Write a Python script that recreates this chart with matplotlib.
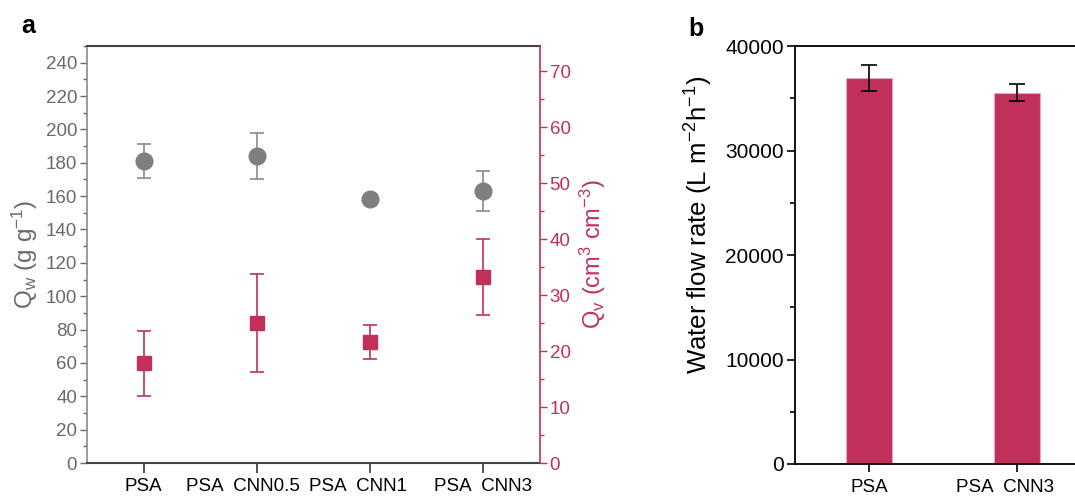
import numpy as np
import matplotlib
matplotlib.use("Agg")
import matplotlib.pyplot as plt
import matplotlib.transforms as mtransforms
from matplotlib.ticker import MultipleLocator

plt.rcParams['font.family'] = ['Liberation Sans', 'DejaVu Sans']
plt.rcParams['mathtext.default'] = 'regular'

# panel a: uptake per sample
samples = ["PSA", "PSA  CNN0.5", "PSA  CNN1", "PSA  CNN3"]
qw_mean = [181, 184, 158.5, 163]
qw_err = [10, 14, 2, 12]
qv_mean = [17.8, 25.0, 21.6, 33.2]
qv_err = [5.8, 8.7, 3.1, 6.8]

# panel b: water flow rate
flow_samples = ["PSA", "PSA  CNN3"]
flow_mean = [36900, 35550]
flow_err = [1250, 850]

grey = "#7f7f7f"
grey_txt = "#6a6a6a"
crimson = "#c1305b"


def nudge_labels(axis, shifts):
    # shift tick labels sideways by a few pixels
    for lab, dx in zip(axis.get_xticklabels(), shifts):
        lab.set_transform(lab.get_transform() +
                          mtransforms.ScaledTranslation(dx / 100, 0, fig.dpi_scale_trans))


fig = plt.figure(figsize=(10.75, 4.97), dpi=100)

# ---- panel a ----
ax = fig.add_axes([0.0809, 0.0684, 0.4214, 0.839])
x = np.arange(1, len(samples) + 1)
ax.errorbar(x, qw_mean, yerr=qw_err, fmt='o', ms=12, color=grey,
            ecolor="#8a8a8a", elinewidth=1.2, capsize=5, capthick=1.2, zorder=3)
ax.set_xlim(0.5, 4.5)
ax.set_ylim(0, 250)
ax.yaxis.set_major_locator(MultipleLocator(20))
ax.yaxis.set_minor_locator(MultipleLocator(10))
ax.set_xticks(x)
ax.set_xticklabels(samples, fontsize=13.5)
ax.tick_params(axis='x', length=7, width=1.2, color="#333333", pad=4)
nudge_labels(ax, [0, -14, -12, 0])
ax.tick_params(axis='y', which='major', length=5, width=1, colors=grey_txt,
               labelsize=13.5, pad=2)
ax.tick_params(axis='y', which='minor', length=3, width=1, color=grey_txt)
ax.spines['left'].set_color("#8a8a8a")
ax.spines['left'].set_linewidth(1.2)
for s in ('top', 'bottom'):
    ax.spines[s].set_color("#444444")
    ax.spines[s].set_linewidth(1.5)
ax.spines['right'].set_visible(False)
ax.set_ylabel("Q$_w$ (g g$^{-1}$)", color=grey_txt, fontsize=17.5, labelpad=4)

ax2 = ax.twinx()
ax2.errorbar(x, qv_mean, yerr=qv_err, fmt='s', ms=10.5, color=crimson,
             ecolor=crimson, elinewidth=1.2, capsize=5, capthick=1.2, zorder=3)
ax2.set_ylim(0, 74.5)
ax2.yaxis.set_major_locator(MultipleLocator(10))
ax2.yaxis.set_minor_locator(MultipleLocator(5))
ax2.tick_params(axis='y', which='major', length=5, width=1, colors=crimson,
                labelsize=13.5, pad=2)
ax2.tick_params(axis='y', which='minor', length=3, width=1, color=crimson)
for s in ('top', 'bottom', 'left'):
    ax2.spines[s].set_visible(False)
ax2.spines['right'].set_color(crimson)
ax2.spines['right'].set_linewidth(1.2)
ax2.set_ylabel("Q$_v$ (cm$^3$ cm$^{-3}$)", color=crimson, fontsize=17, labelpad=5)

fig.text(0.0195, 0.934, "a", fontsize=18, fontweight='bold', color="black",
         va='baseline')

# ---- panel b ----
bx = fig.add_axes([0.7395, 0.0664, 0.275, 0.841])
xb = np.arange(1, len(flow_samples) + 1)
bx.bar(xb, flow_mean, width=0.31, color=crimson, edgecolor="#e6a6bb", linewidth=0.8)
bx.errorbar(xb, flow_mean, yerr=flow_err, fmt='none', ecolor="black",
            elinewidth=1.2, capsize=5.5, capthick=1.2)
bx.set_xlim(0.5, 2.5)
bx.set_ylim(0, 40000)
bx.yaxis.set_major_locator(MultipleLocator(10000))
bx.yaxis.set_minor_locator(MultipleLocator(5000))
bx.set_xticks(xb)
bx.set_xticklabels(flow_samples, fontsize=13.5)
bx.tick_params(axis='x', length=6, width=1.2, pad=5)
nudge_labels(bx, [0, -12])
bx.tick_params(axis='y', which='major', length=6, width=1.2, labelsize=15, pad=2)
bx.tick_params(axis='y', which='minor', length=3.5, width=1.2)
for s in bx.spines.values():
    s.set_linewidth(1.3)
bx.set_ylabel("Water flow rate (L m$^{-2}$h$^{-1}$)", fontsize=18.5)
bx.yaxis.set_label_coords(-0.27, 0.572)

fig.text(0.640, 0.928, "b", fontsize=18, fontweight='bold', color="black",
         va='baseline')

fig.savefig("out.png", dpi=100)
